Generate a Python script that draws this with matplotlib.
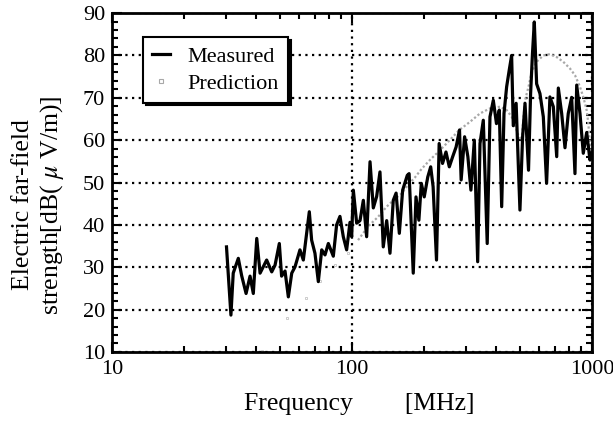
import numpy as np
import matplotlib
matplotlib.use("Agg")
from matplotlib import pyplot as plt
from matplotlib.ticker import MultipleLocator, FixedLocator, NullFormatter

plt.rcParams['font.family'] = ['Liberation Serif', 'DejaVu Serif']
plt.rcParams['mathtext.fontset'] = 'stix'

# measured far-field strength
meas_freq = [30.0, 31.3, 32.0, 33.6, 34.7, 36.2, 37.6, 38.8, 40.1, 41.4,
             44.1, 46.3, 47.8, 49.8, 50.9, 52.6, 54.3, 56.1, 57.9, 60.7,
             62.7, 66.4, 67.9, 70.1, 72.4, 74.8, 77.2, 79.7, 83.6, 86.3,
             89.1, 92.0, 95.0, 98.1, 99.7, 101.3, 104.6, 108.0, 111.5, 115.1,
             118.9, 122.7, 126.7, 130.8, 135.0, 139.5, 144.0, 148.6, 152.7, 157.5,
             162.6, 170.0, 173.0, 180.0, 184.8, 190.0, 194.5, 200.0, 206.9, 212.8,
             217.8, 225.0, 230.8, 238.4, 246.4, 254.4, 262.8, 271.6, 280.6, 285.0,
             294.6, 304.0, 313.0, 323.4, 334.0, 341.5, 352.5, 366.0, 375.8, 388.0,
             400.0, 411.0, 420.5, 430.0, 441.0, 452.0, 462.6, 470.0, 483.0, 493.0,
             501.0, 514.0, 526.0, 544.0, 555.0, 565.0, 575.0, 588.0, 607.0, 627.0,
             647.0, 668.0, 690.0, 713.0, 724.1, 747.7, 771.9, 796.5, 822.9, 849.5,
             863.6, 891.3, 920.0, 950.5, 981.0, 997.0]
meas_db = [34.8, 18.7, 28.6, 32.1, 28.0, 23.8, 27.9, 23.8, 36.8, 28.6,
           31.7, 28.9, 30.5, 35.6, 27.9, 29.1, 23.0, 28.6, 30.1, 34.1,
           31.7, 43.1, 36.4, 33.3, 26.6, 34.1, 32.9, 35.6, 32.6, 40.0,
           42.0, 37.2, 34.1, 40.6, 37.2, 48.2, 40.4, 41.0, 45.8, 37.2,
           54.9, 44.0, 46.7, 52.5, 34.8, 41.0, 33.3, 45.8, 47.5, 38.0,
           48.2, 51.7, 52.1, 28.6, 46.6, 41.1, 49.8, 46.6, 51.3, 53.7,
           49.0, 31.7, 59.2, 54.5, 57.2, 53.7, 56.1, 58.4, 62.4, 50.6,
           60.8, 56.1, 48.2, 60.0, 31.3, 59.2, 64.7, 35.6, 65.5, 69.4,
           63.9, 67.1, 44.3, 66.3, 72.6, 76.5, 80.0, 63.4, 68.7, 54.5,
           43.5, 60.8, 68.7, 52.9, 71.0, 80.4, 87.9, 73.3, 71.0, 65.5,
           49.8, 70.2, 67.9, 56.1, 72.3, 66.3, 58.2, 66.3, 70.1, 52.1,
           73.0, 66.3, 56.9, 61.8, 55.3, 56.9]

# predicted far-field strength
pred_freq = [42.1, 53.5, 64.3, 73.6, 85.0, 96.5, 106, 117, 128.5, 139.5,
             151.3, 161, 171, 183, 195, 211, 232.6, 255.5, 280, 310,
             341.5, 376, 414, 441, 463, 478, 493, 509, 526, 544,
             561, 588, 627, 668, 713, 759, 810, 850, 891, 920,
             950, 966, 981, 997]
pred_db = [10.2, 17.9, 22.7, 26.8, 30.5, 33.4, 36.4, 39.7, 41.9, 44.3,
           46.2, 47.4, 49.4, 51.2, 53.2, 55.3, 57.6, 60.0, 62.4, 64.3,
           66.3, 67.5, 67.9, 67.1, 65.5, 63.5, 61.2, 60.0, 69.4, 72.6,
           76.1, 78.5, 80.0, 80.3, 79.6, 78.5, 76.9, 75.3, 72.6, 70.2,
           67.1, 63.9, 58.8, 56.1]

pred_freq = np.array(pred_freq)
pred_db = np.array(pred_db)

fig = plt.figure(figsize=(6.13, 4.21), dpi=100)
ax = fig.add_axes([0.1827, 0.164, 0.7830, 0.805])

grey = '#a8a8a8'
low = pred_freq < 100
ax.plot(pred_freq[low], pred_db[low], linestyle='none', marker='s', ms=2,
        mfc='white', mec='#c4c4c4', mew=0.6, zorder=2)
ax.plot(pred_freq[~low], pred_db[~low], linestyle=(0, (1, 1)), color=grey, lw=1.6,
        zorder=2)
ax.plot(meas_freq, meas_db, color='black', lw=2.3, zorder=3, label='Measured')
ax.plot([], [], linestyle='none', marker='s', ms=3, mfc='white', mec=grey, mew=0.8,
        label='Prediction')

ax.set_xscale('log')
ax.set_xlim(10, 1000)
ax.set_ylim(10, 90)
ax.xaxis.set_major_locator(FixedLocator([10, 100, 1000]))
ax.set_xticklabels(['10', '100', '1000'])
ax.xaxis.set_minor_locator(FixedLocator([k * 10 ** e for e in (1, 2) for k in range(2, 10)]))
ax.xaxis.set_minor_formatter(NullFormatter())
ax.yaxis.set_major_locator(MultipleLocator(10))
ax.yaxis.set_minor_locator(MultipleLocator(2))

ax.tick_params(which='both', direction='in', top=True, right=True, width=1.5,
               labelsize=16)
ax.tick_params(which='major', length=7)
ax.tick_params(which='minor', length=4)
ax.tick_params(axis='x', pad=6)
ax.tick_params(axis='y', pad=5)
for s in ax.spines.values():
    s.set_linewidth(2)

ax.grid(True, which='major', color='black', linestyle=(0, (1, 2)), lw=1.6)

leg = ax.legend(loc='upper left', bbox_to_anchor=(0.065, 0.929), borderaxespad=0,
                fontsize=16, handlelength=0.8, labelspacing=0.3, fancybox=False,
                shadow={'color': 'black', 'alpha': 1.0}, framealpha=1,
                edgecolor='black', borderpad=0.4, handletextpad=0.8)
leg.get_frame().set_linewidth(1.5)

fig.text(39 / 613, 1 - 205 / 421, 'Electric far-field\nstrength[dB( $\\mu$ V/m)]',
         rotation=90, ha='center', va='center', fontsize=18.5, multialignment='center')
fig.text(359 / 613, 1 - 404 / 421, 'Frequency        [MHz]', ha='center', va='center',
         fontsize=18.5)

fig.savefig('out.png', dpi=100)
